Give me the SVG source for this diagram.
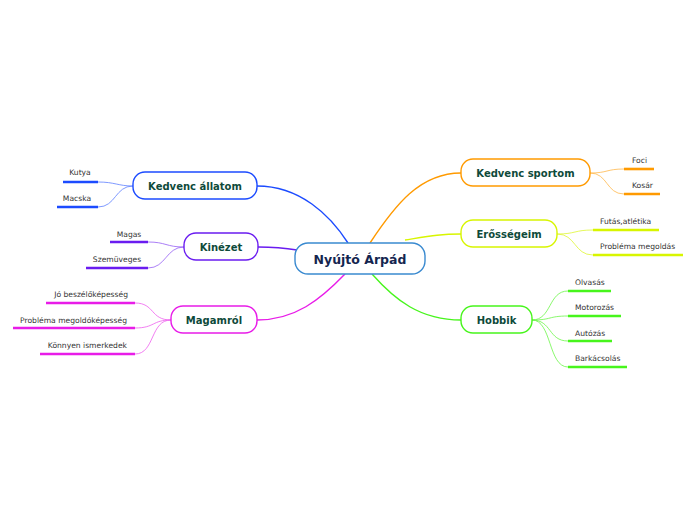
<svg xmlns="http://www.w3.org/2000/svg" width="696" height="520" viewBox="0 0 696 520">
<style>
.node{fill:#fff;stroke-width:1.4}
.nt{font-family:"DejaVu Sans",Verdana,sans-serif;font-weight:bold;font-size:10px;fill:#0e4a3a;text-anchor:middle}
.st{font-family:"DejaVu Sans",Verdana,sans-serif;font-size:7.6px;fill:#333}
.c{fill:none;stroke-width:1.4}
.sc{fill:none;stroke-width:0.8}
.ul{stroke-width:2.6;fill:none}
</style>
<rect width="696" height="520" fill="#fff"/>
<g id="connectors">
<path class="c" stroke="#1c4bff" d="M257,186 C300,186 330,215 348,243"/>
<path class="c" stroke="#6a1cf0" d="M258,247 C275,247 285,248 297,250"/>
<path class="c" stroke="#e81ce8" d="M257,320 C295,320 320,300 345,274"/>
<path class="c" stroke="#ff9a00" d="M370,243 C395,205 420,173 461,173"/>
<path class="c" stroke="#d8f500" d="M405,240 C430,236 440,234 461,234"/>
<path class="c" stroke="#47f51c" d="M372,274 C395,300 420,320 461,320"/>
<g stroke="#1c4bff" opacity="0.7"><path class="sc" d="M133,186 C118,186 115,182 98,182"/><path class="sc" d="M133,186 C115,186 116,207 98,207"/></g>
<g stroke="#6a1cf0" opacity="0.7"><path class="sc" d="M184,247 C166,247 166,242 148,242"/><path class="sc" d="M184,247 C166,247 166,268 148,268"/></g>
<g stroke="#e81ce8" opacity="0.7"><path class="sc" d="M171,320 C150,320 155,303 135,303"/><path class="sc" d="M171,320 C152,320 155,328 135,328"/><path class="sc" d="M171,320 C150,320 155,354 135,354"/></g>
<g stroke="#ff9a00" opacity="0.7"><path class="sc" d="M590,173 C608,173 606,169 624,169"/><path class="sc" d="M590,173 C608,173 606,194 624,194"/></g>
<g stroke="#d8f500" opacity="0.8"><path class="sc" d="M557,234 C576,234 574,230 593,230"/><path class="sc" d="M557,234 C576,234 574,255 593,255"/></g>
<g stroke="#47f51c" opacity="0.8"><path class="sc" d="M532,320 C552,320 548,291 568,291"/><path class="sc" d="M532,320 C552,320 548,316 568,316"/><path class="sc" d="M532,320 C552,320 548,341 568,341"/><path class="sc" d="M532,320 C552,320 548,367 568,367"/></g>
</g>
<g id="central"><rect x="295" y="243" width="130" height="31" rx="13" fill="#fff" stroke="#3a8ad0" stroke-width="1.4"/><text x="360" y="264" font-family="DejaVu Sans,Verdana,sans-serif" font-weight="bold" font-size="12.5" fill="#14254f" text-anchor="middle">Nyújtó Árpád</text></g>
<g id="n-allatom"><rect class="node" x="133" y="172" width="124" height="27" rx="12" stroke="#1c4bff"/><text class="nt" x="195" y="189.5">Kedvenc állatom</text></g>
<g id="n-kinezet"><rect class="node" x="184" y="233" width="74" height="27" rx="12" stroke="#6a1cf0"/><text class="nt" x="221" y="250.5">Kinézet</text></g>
<g id="n-magamrol"><rect class="node" x="171" y="306" width="86" height="27" rx="12" stroke="#e81ce8"/><text class="nt" x="214" y="323.5">Magamról</text></g>
<g id="n-sport"><rect class="node" x="461" y="159" width="129" height="27" rx="12" stroke="#ff9a00"/><text class="nt" x="525.5" y="176.5">Kedvenc sportom</text></g>
<g id="n-eross"><rect class="node" x="461" y="220" width="96" height="27" rx="12" stroke="#d8f500"/><text class="nt" x="509" y="237.5">Erősségeim</text></g>
<g id="n-hobbik"><rect class="node" x="461" y="306" width="71" height="27" rx="12" stroke="#47f51c"/><text class="nt" x="496.5" y="323.5">Hobbik</text></g>
<g id="s-kutya"><line class="ul" x1="63" y1="182" x2="98" y2="182" stroke="#1c4bff"/><text class="st" x="80" y="175" text-anchor="middle">Kutya</text></g>
<g id="s-macska"><line class="ul" x1="57" y1="207" x2="98" y2="207" stroke="#1c4bff"/><text class="st" x="77" y="201" text-anchor="middle">Macska</text></g>
<g id="s-magas"><line class="ul" x1="110" y1="242" x2="148" y2="242" stroke="#6a1cf0"/><text class="st" x="129" y="237" text-anchor="middle">Magas</text></g>
<g id="s-szem"><line class="ul" x1="86" y1="268" x2="148" y2="268" stroke="#6a1cf0"/><text class="st" x="117" y="262" text-anchor="middle">Szemüveges</text></g>
<g id="s-jo"><line class="ul" x1="46" y1="303" x2="135" y2="303" stroke="#e81ce8"/><text class="st" x="128" y="297" text-anchor="end">Jó beszélőképesség</text></g>
<g id="s-probl"><line class="ul" x1="13" y1="328" x2="135" y2="328" stroke="#e81ce8"/><text class="st" x="127" y="323" text-anchor="end">Probléma megoldóképesség</text></g>
<g id="s-konny"><line class="ul" x1="40" y1="354" x2="135" y2="354" stroke="#e81ce8"/><text class="st" x="127" y="348" text-anchor="end">Könnyen ismerkedek</text></g>
<g id="s-foci"><line class="ul" x1="624" y1="169" x2="654" y2="169" stroke="#ff9a00"/><text class="st" x="632" y="163">Foci</text></g>
<g id="s-kosar"><line class="ul" x1="624" y1="194" x2="660" y2="194" stroke="#ff9a00"/><text class="st" x="632" y="188">Kosár</text></g>
<g id="s-futas"><line class="ul" x1="593" y1="230" x2="659" y2="230" stroke="#d8f500"/><text class="st" x="600" y="224">Futás,atlétika</text></g>
<g id="s-probm"><line class="ul" x1="593" y1="255" x2="683" y2="255" stroke="#d8f500"/><text class="st" x="600" y="249">Probléma megoldás</text></g>
<g id="s-olv"><line class="ul" x1="568" y1="291" x2="611" y2="291" stroke="#47f51c"/><text class="st" x="575" y="285">Olvasás</text></g>
<g id="s-motor"><line class="ul" x1="568" y1="316" x2="621" y2="316" stroke="#47f51c"/><text class="st" x="575" y="310">Motorozás</text></g>
<g id="s-auto"><line class="ul" x1="568" y1="341" x2="612" y2="341" stroke="#47f51c"/><text class="st" x="575" y="336">Autózás</text></g>
<g id="s-bark"><line class="ul" x1="568" y1="367" x2="627" y2="367" stroke="#47f51c"/><text class="st" x="575" y="361">Barkácsolás</text></g>
</svg>
